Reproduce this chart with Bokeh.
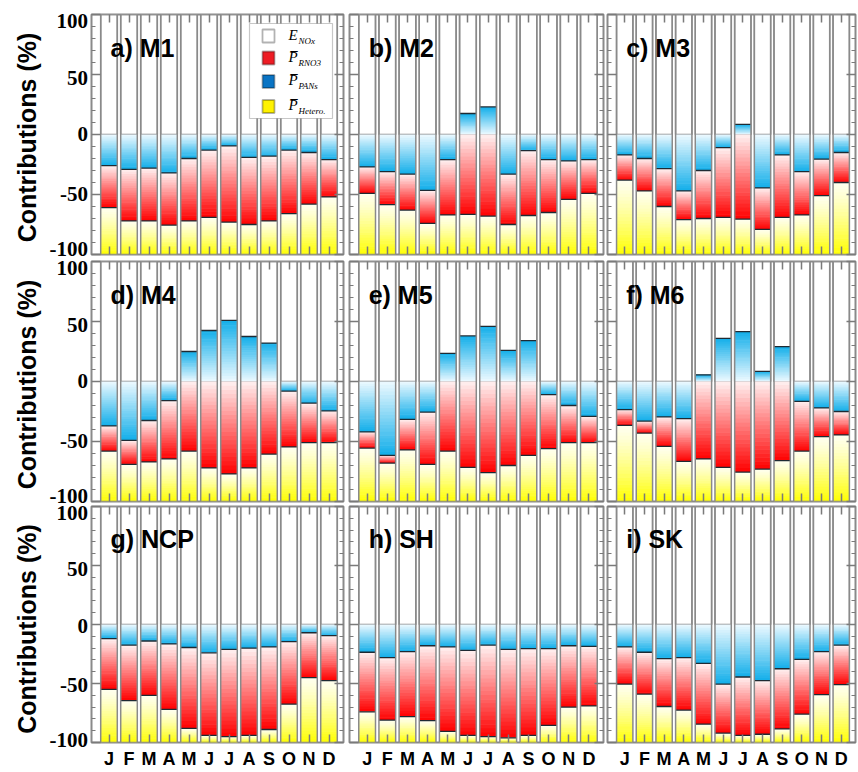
import numpy as np
from bokeh.plotting import figure
from bokeh.models import Range1d, LinearAxis, FixedTicker, ColumnDataSource, Label, BoxAnnotation
from bokeh.layouts import column, row
from bokeh.embed import file_html
from bokeh.resources import INLINE
from bokeh.core.properties import value

# ---------------- data ----------------
months = ["J", "F", "M", "A", "M", "J", "J", "A", "S", "O", "N", "D"]
month_pos = [1, 2, 3, 4, 5, 6, 7, 8, 9, 10, 11, 12]
ytick_vals = [-100, -50, 0, 50, 100]
ytick_text = ["-100", "-50", "0", "50", "100"]
yminor_vals = [-90, -80, -70, -60, -40, -30, -20, -10, 10, 20, 30, 40, 60, 70, 80, 90]
panel_titles = ["a) M1", "b) M2", "c) M3", "d) M4", "e) M5", "f) M6", "g) NCP", "h) SH", "i) SK"]
y_title = "Contributions (%)"
legend_names = ["E", "P\u0305", "P\u0305", "P\u0305"]
legend_subs = ["NOx", "RNO3", "PANs", "Hetero."]

enox = [100, 100, 100, 100, 100, 100, 100, 100, 100, 100, 100, 100]

pans_m1 = [-26, -29, -28, -32, -20, -13, -9.5, -19, -18, -13, -15, -21]
rno3_m1 = [-35, -43, -44, -43.5, -52, -56, -63.5, -56, -54, -53, -43, -31]
het_m1 = [-39, -28, -28, -24.5, -28, -31, -27, -25, -28, -34, -42, -48]

pans_m2 = [-27, -31, -33, -46.5, -21, 17.5, 23, -33, -13.5, -21, -22, -21]
rno3_m2 = [-22, -27.5, -30, -27.5, -46, -66.5, -68, -42, -54, -44, -32, -28]
het_m2 = [-51, -41.5, -37, -26, -33, -33.5, -32, -25, -32.5, -35, -46, -51]

pans_m3 = [-17, -20, -28.5, -47, -30, -11, 8.5, -44.5, -17, -31, -20.5, -15]
rno3_m3 = [-21, -27, -31.5, -24, -40, -58, -70.5, -34.5, -52, -36, -30.5, -25]
het_m3 = [-62, -53, -40, -29, -30, -31, -29.5, -21, -31, -33, -49, -60]

pans_m4 = [-37, -49, -32.5, -16, 25, 42.5, 51, 37.5, 32, -8, -18, -24.5]
rno3_m4 = [-21, -20, -34.5, -48.5, -58, -72, -77, -72, -60.5, -46.5, -33, -26.5]
het_m4 = [-42, -31, -33, -35.5, -42, -28, -23, -28, -39.5, -45.5, -49, -49]

pans_m5 = [-42, -61.5, -31.5, -25.5, 23.5, 38, 46, 26, 34, -11, -20, -29]
rno3_m5 = [-13.5, -6.5, -25.5, -43.5, -58, -71.5, -76, -70, -61.5, -45, -31, -22]
het_m5 = [-44.5, -32, -43, -31, -42, -28.5, -24, -30, -38.5, -44, -49, -49]

pans_m6 = [-23.5, -33, -29.5, -31, 5.5, 36, 41.5, 8.5, 29, -16.5, -22, -25]
rno3_m6 = [-13, -10, -24.5, -35.5, -64.5, -71.5, -75.5, -73, -66, -41.5, -24, -19.5]
het_m6 = [-63.5, -57, -46, -33.5, -35.5, -28.5, -24.5, -27, -34, -42, -54, -55.5]

pans_ncp = [-12, -17.5, -14, -16.5, -19.5, -24, -21, -20, -19, -14.5, -7, -9.5]
rno3_ncp = [-43, -47, -46, -55.5, -68.5, -70, -74, -74, -70, -53, -38, -38]
het_ncp = [-45, -35.5, -40, -28, -12, -6, -5, -6, -11, -32.5, -55, -52.5]

pans_sh = [-23.5, -28, -23, -18, -19, -22, -17.5, -21, -20.5, -20.5, -18, -18.5]
rno3_sh = [-50.5, -53, -55, -63.5, -71.5, -72, -77.5, -75, -73.5, -65, -52, -50.5]
het_sh = [-26, -19, -22, -18.5, -9.5, -6, -5, -4, -6, -14.5, -30, -31]

pans_sk = [-19, -23.5, -29, -28, -33, -50.5, -44.5, -47.5, -37.5, -29.5, -23, -17.5]
rno3_sk = [-31.5, -35.5, -40.5, -44.5, -51.5, -41.5, -49.5, -45.5, -51, -46.5, -36.5, -33.5]
het_sk = [-49.5, -41, -30.5, -27.5, -15.5, -8, -6, -7, -11.5, -24, -40.5, -49]

panels = [
    (pans_m1, rno3_m1, het_m1), (pans_m2, rno3_m2, het_m2), (pans_m3, rno3_m3, het_m3),
    (pans_m4, rno3_m4, het_m4), (pans_m5, rno3_m5, het_m5), (pans_m6, rno3_m6, het_m6),
    (pans_ncp, rno3_ncp, het_ncp), (pans_sh, rno3_sh, het_sh), (pans_sk, rno3_sk, het_sk),
]

# ---------------- style / geometry ----------------
GRAY = "#8a8a8a"
TICK = "#7a7a7a"
BAR_W = 0.83
NSL = 22
BLUE = ((238, 250, 255), (18, 174, 234))
RED = ((255, 242, 242), (255, 0, 0))
YEL = ((255, 255, 238), (255, 255, 0))
LEG_COLORS = ["#ffffff", "#ee1c24", "#0a74c4", "#fff200"]
YLAB_DROP = {-100: 2, -50: 7.5, 0: 7.5, 50: 11, 100: 14}   # baseline offset below tick (px)
BSHIFT = 0.38   # observed extra downward shift of alphabetic-baseline text, in em

LABEL_W = 89
COL_BL = [2, 3, 2]
COL_FW = [252, 254, 248]
COL_BR = [3, 2, 3]
ROW_BT = [14, 4, 3]
ROW_FH = [240, 240, 239]
ROW_BB = [3, 2, 26]
TOTAL_H = sum(ROW_BT) + sum(ROW_FH) + sum(ROW_BB)


def blend(c0, c1, t):
    return "#%02x%02x%02x" % tuple(int(round(a + (b - a) * t)) for a, b in zip(c0, c1))


def add_slices(store, x, a, b, cols, gamma=1.0):
    if a == b:
        return
    for k in range(NSL):
        ya = a + (b - a) * k / NSL
        yb = a + (b - a) * (k + 1) / NSL
        if k < NSL - 1:
            yb = yb + (0.5 if b > a else -0.5)
        t = ((k + 0.5) / NSL) ** gamma
        store["left"].append(x - BAR_W / 2)
        store["right"].append(x + BAR_W / 2)
        store["bottom"].append(min(ya, yb))
        store["top"].append(max(ya, yb))
        store["color"].append(blend(cols[0], cols[1], t))


def style_axis(ax, ticker, tin, minor_in=0):
    ax.ticker = ticker
    ax.major_tick_in = tin
    ax.major_tick_out = 0
    ax.minor_tick_in = minor_in
    ax.minor_tick_out = 0
    ax.major_tick_line_color = TICK
    ax.minor_tick_line_color = TICK
    ax.major_tick_line_width = 1.5
    ax.minor_tick_line_width = 1.2
    ax.axis_line_color = None
    ax.major_label_standoff = 0
    ax.major_label_text_alpha = 0
    ax.major_label_text_color = None


def make_panel(idx):
    pans, rno3, het = panels[idx]
    r, c = divmod(idx, 3)
    bl, fw, br = COL_BL[c], COL_FW[c], COL_BR[c]
    bt, fh, bb = ROW_BT[r], ROW_FH[r], ROW_BB[r]
    xr = Range1d(0.125, 12.725)
    p = figure(width=bl + fw + br, height=bt + fh + bb,
               min_border_left=bl, min_border_right=br, min_border_top=bt, min_border_bottom=bb,
               x_range=xr, y_range=Range1d(-100, 100),
               x_axis_type=None, y_axis_type=None, title=None,
               output_backend="svg", toolbar_location=None, tools="")
    p.grid.visible = False
    p.outline_line_color = GRAY
    p.outline_line_width = 2
    p.background_fill_color = "white"

    x = np.array(month_pos, dtype=float)
    # E_NOx white bars
    p.quad(left=x - BAR_W / 2, right=x + BAR_W / 2, bottom=0, top=enox,
           fill_color="white", line_color=GRAY, line_width=1.5)

    store = dict(left=[], right=[], bottom=[], top=[], color=[])
    bnd_y = []
    bnd_x = []
    for i in range(12):
        base = 0.0
        add_slices(store, x[i], 0.0, pans[i], BLUE, 1.0)
        bnd_x.append(x[i]); bnd_y.append(pans[i])
        if pans[i] < 0:
            base = pans[i]
        add_slices(store, x[i], base, base + rno3[i], RED, 1.0)
        bnd_x.append(x[i]); bnd_y.append(base + rno3[i])
        add_slices(store, x[i], base + rno3[i], base + rno3[i] + het[i], YEL, 1.3)
    p.quad(left="left", right="right", bottom="bottom", top="top", fill_color="color",
           line_color=None, source=ColumnDataSource(store))
    bx = np.array(bnd_x)
    p.segment(x0=bx - BAR_W / 2, x1=bx + BAR_W / 2, y0=bnd_y, y1=bnd_y,
              line_color="#1e2a33", line_width=1.3)
    # bar outlines
    bottoms = [min(pans[i], 0) + rno3[i] + het[i] for i in range(12)]
    p.quad(left=x - BAR_W / 2, right=x + BAR_W / 2, bottom=bottoms, top=enox,
           fill_color=None, line_color=GRAY, line_width=1.5)

    yl = LinearAxis()
    yr = LinearAxis()
    xb = LinearAxis()
    xtop = LinearAxis()
    p.add_layout(yl, "left")
    p.add_layout(yr, "right")
    p.add_layout(xb, "below")
    p.add_layout(xtop, "above")
    for ax in (yl, yr):
        style_axis(ax, FixedTicker(ticks=ytick_vals, minor_ticks=yminor_vals), 9, 4)
    for ax in (xb, xtop):
        style_axis(ax, FixedTicker(ticks=month_pos, minor_ticks=[]), 8, 0)
    if r == 2:
        xb.major_label_overrides = {m: months[k] for k, m in enumerate(month_pos)}
        xb.major_label_text_alpha = 1
        xb.major_label_text_color = "black"
        xb.major_label_text_font_size = "18px"
        xb.major_label_text_font = "Liberation Sans"
        xb.major_label_text_font_style = "bold"
        xb.major_label_standoff = 6

    p.add_layout(Label(x=1.075, y=64.2, y_offset=BSHIFT * 25, text=panel_titles[idx],
                       text_font="Liberation Sans", text_font_style="bold", text_font_size="25px",
                       text_color="black", text_baseline="alphabetic"))

    if idx == 0:
        def px2x(px):
            return 0.125 + (px - 91) / 20.0

        def py2y(py):
            return 100 - (py - 14) / 1.2

        p.add_layout(BoxAnnotation(left=px2x(249), right=px2x(332), top=py2y(23), bottom=py2y(118),
                                   fill_color="white", fill_alpha=1, line_color="#444444",
                                   line_width=1.2, level="overlay"))
        centers = [35.5, 57.5, 81, 106]
        for k in range(4):
            cy = centers[k]
            p.add_layout(BoxAnnotation(left=px2x(262), right=px2x(274), top=py2y(cy - 6.5),
                                       bottom=py2y(cy + 6.5), fill_color=LEG_COLORS[k], fill_alpha=1,
                                       line_color="black", line_width=1.8, level="overlay"))
            p.add_layout(Label(x=px2x(288), y=py2y(cy + 4.5), y_offset=BSHIFT * 15,
                               text=legend_names[k],
                               text_font="Liberation Serif", text_font_style="italic",
                               text_font_size="15px", text_color="black", text_baseline="alphabetic",
                               level="overlay"))
            p.add_layout(Label(x=px2x(298), y=py2y(cy + 8), y_offset=BSHIFT * 9,
                               text=legend_subs[k],
                               text_font="Liberation Serif", text_font_style="italic",
                               text_font_size="9px", text_color="black", text_baseline="alphabetic",
                               level="overlay"))
    return p


def make_label_column():
    # A strip holding the y tick labels and y titles of the left column,
    # in screen pixel coordinates (y grows downward).
    q = figure(width=LABEL_W, height=TOTAL_H, x_range=Range1d(0, LABEL_W),
               y_range=Range1d(TOTAL_H, 0), x_axis_type=None, y_axis_type=None, title=None,
               min_border=0, output_backend="svg", toolbar_location=None, tools="")
    q.grid.visible = False
    q.outline_line_color = None
    tx, ty, tt = [], [], []
    hx, hy, ht = [], [], []
    top = 0
    for r in range(3):
        ftop = top + ROW_BT[r]
        fh = ROW_FH[r]
        for v, t in zip(ytick_vals, ytick_text):
            tx.append(LABEL_W - 1.5)
            ty.append(ftop + (100 - v) / 200.0 * fh + YLAB_DROP[v] - BSHIFT * 21)
            tt.append(t)
        hx.append(36 - BSHIFT * 25)
        hy.append(ftop + fh / 2.0 + 3)
        ht.append(y_title)
        top = ftop + fh + ROW_BB[r]
    q.text(x=tx, y=ty, text=tt, text_font=value("Liberation Sans Narrow"),
           text_font_style="bold", text_font_size="21px", text_color="black",
           text_align="right", text_baseline="alphabetic")
    q.text(x=hx, y=hy, text=ht, angle=np.pi / 2, text_font=value("Liberation Sans"),
           text_font_style="bold", text_font_size="25px", text_color="black",
           text_align="center", text_baseline="alphabetic")
    return q


figs = [make_panel(i) for i in range(9)]
grid = column(row(*figs[0:3]), row(*figs[3:6]), row(*figs[6:9]))
layout = row(make_label_column(), grid)
open("out.html", "w").write(file_html(layout, INLINE))
